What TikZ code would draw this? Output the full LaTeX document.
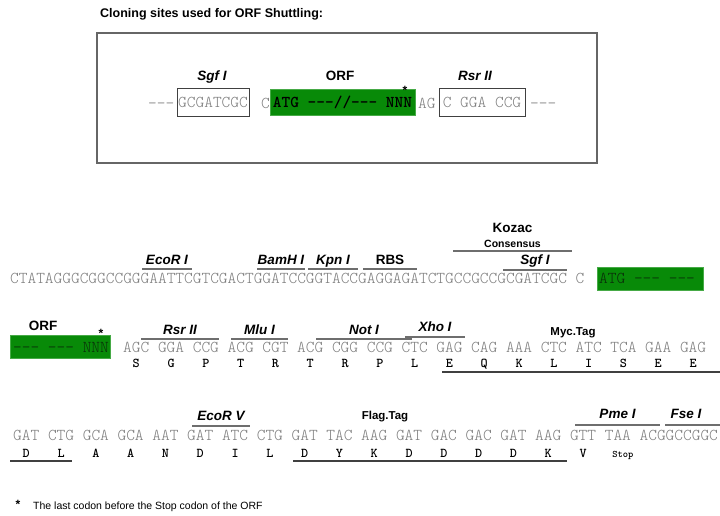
\documentclass[tikz,border=0pt]{standalone}
\usepackage{fontspec}
\setmainfont{Liberation Sans}
\usetikzlibrary{positioning}

\definecolor{orfgreen}{RGB}{8,138,8}
\definecolor{orfedge}{RGB}{70,170,70}
\definecolor{orftext}{RGB}{10,45,10}
\definecolor{seqgray}{RGB}{125,125,125}
\definecolor{linegray}{RGB}{110,110,110}

\newcommand{\seqfont}{\fontseries{l}\ttfamily\fontsize{16.57}{18}\selectfont}
\newcommand{\aafont}{\fontseries{b}\ttfamily\fontsize{13.5}{15}\selectfont}
\newcommand{\dsh}{-\kern0pt-\kern0pt-}
\def\chw{8.7}

\tikzset{
  seq/.style={anchor=base west,inner sep=0pt,text=seqgray,font=\seqfont},
  orfseq/.style={seq,text=orftext},
  aa/.style={anchor=base,inner sep=0pt,font=\aafont},
  orfbox/.style={fill=orfgreen,draw=orfedge,line width=0.8pt,inner sep=0pt},
  sitebox/.style={draw=black!75,line width=1pt,inner sep=0pt,text=seqgray,font=\seqfont},
  enz/.style={anchor=base,inner sep=0pt,font=\fontsize{13.5}{15}\selectfont\bfseries\itshape},
  lab/.style={anchor=base,inner sep=0pt,font=\fontsize{13.5}{15}\selectfont\bfseries},
  tag/.style={anchor=base,inner sep=0pt,font=\fontsize{11.5}{13}\selectfont\bfseries},
  site/.style={draw=linegray,line width=1.3pt},
  tagline/.style={draw=black!75,line width=1.8pt},
  star/.style={anchor=base,inner sep=0pt,font=\fontsize{12}{14}\selectfont\bfseries}
}

\begin{document}
\begin{tikzpicture}[x=1pt,y=-1pt]
  \useasboundingbox (0,0) rectangle (720,515);

  % shuttling sites
  \node[anchor=base west,inner sep=0pt,font=\fontsize{12.5}{14}\selectfont\bfseries] (title) at (100,17) {Cloning sites used for ORF Shuttling:};
  \draw[draw=black!60,line width=1.5pt] (97,33) rectangle (597,163);
  \node[seq] (lead) at (148,108) {\dsh};
  \node[sitebox,minimum width=72,minimum height=28] (sgfbox) at (213,102) {GCGATCGC};
  \node[seq] (cbase) at (261,108) {C};
  \node[orfbox,minimum width=145,minimum height=26,text=black,font=\fontseries{b}\ttfamily\fontsize{16.57}{18}\selectfont] (orftop) at (342.5,102) {ATG \dsh//\dsh{} NNN};
  \node[star] (startop) at (405,94) {*};
  \node[seq] (agbase) at (418,108) {AG};
  \node[sitebox,minimum width=86,minimum height=28] (rsrbox) at (482,102) {C GGA CCG};
  \node[seq] (trail) at (530,108) {\dsh};
  \node[enz] (sgflab) at (212,80) {Sgf I};
  \node[lab] (orflab) at (340,80) {ORF};
  \node[enz] (rsrlab) at (475,80) {Rsr II};

  % 5' sequence
  \node[seq] (seqA) at (10,283) {CTATAGGGCGGCCGGGAATTCGTCGACTGGATCCGGTACCGAGGAGATCTGCCGCCGCGATCGC C};
  \node[orfbox,anchor=north west,minimum width=106,minimum height=23] (orfA) at (597,267) {};
  \node[orfseq] (orfAtxt) at (599,283) {ATG \dsh\ \dsh};
  \draw[site] (142,269) -- (192,269) node[enz,midway,yshift=5pt] (ecori) {EcoR I};
  \draw[site] (257,269) -- (305,269) node[enz,midway,yshift=5pt] (bamhi) {BamH I};
  \draw[site] (308,269) -- (358,269) node[enz,midway,yshift=5pt] (kpni) {Kpn I};
  \draw[site] (363,269) -- (417,269) node[lab,midway,yshift=5pt] (rbs) {RBS};
  \draw[site] (503,270) -- (567,270) node[enz,midway,yshift=6pt] (sgfi) {Sgf I};
  \draw[site] (453,251) -- (572,251) node[anchor=base,inner sep=0pt,font=\fontsize{10.5}{12}\selectfont\bfseries,midway,yshift=4pt] (cons) {Consensus};
  \node[lab,above=6pt of cons] (kozac) {Kozac};

  % 3' sequence
  \node[lab] (orflabB) at (43,330) {ORF};
  \node[orfbox,anchor=north west,minimum width=100,minimum height=23] (orfB) at (10,335) {};
  \node[orfseq] (orfBtxt) at (13,352) {\dsh\ \dsh\ NNN};
  \node[star] (starB) at (101,337) {*};
  \foreach \c/\a [count=\i from 0] in {AGC/S,GGA/G,CCG/P,ACG/T,CGT/R,ACG/T,CGG/R,CCG/P,CTC/L,GAG/E,CAG/Q,AAA/K,CTC/L,ATC/I,TCA/S,GAA/E,GAG/E}{
    \node[seq] (cB\i) at ({123+4*\i*\chw},352) {\c};
    \node[aa] (aB\i) at ([yshift=-15pt]cB\i.base) {\a};
  }
  \draw[site] (141,339) -- (219,339) node[enz,midway,yshift=5pt] (rsrii) {Rsr II};
  \draw[site] (231,339) -- (288,339) node[enz,midway,yshift=5pt] (mlui) {Mlu I};
  \draw[site] (316,339) -- (412,339) node[enz,midway,yshift=5pt] (noti) {Not I};
  \draw[site] (405,337) -- (465,337) node[enz,midway,yshift=6pt] (xhoi) {Xho I};
  \node[tag] (myc) at (573,335) {Myc.Tag};
  \draw[tagline] (442,372) -- (720,372);

  % tags and stop
  \foreach \c/\a [count=\i from 0] in {GAT/D,CTG/L,GCA/A,GCA/A,AAT/N,GAT/D,ATC/I,CTG/L,GAT/D,TAC/Y,AAG/K,GAT/D,GAC/D,GAC/D,GAT/D,AAG/K,GTT/V}{
    \node[seq] (cC\i) at ({13+4*\i*\chw},440) {\c};
    \node[aa] (aC\i) at ([yshift=-17pt]cC\i.base) {\a};
  }
  \node[seq] (cC17) at ({13+68*\chw},440) {TAA};
  \node[aa,font=\fontseries{b}\ttfamily\fontsize{10}{12}\selectfont] (stopC) at ([xshift=5pt,yshift=-17pt]cC17.base) {Stop};
  \node[seq] (tailC) at ({13+72*\chw},440) {ACGGCCGGC};
  \draw[site] (192,426) -- (250,426) node[enz,midway,yshift=6pt] (ecorv) {EcoR V};
  \draw[site] (575,425) -- (660,425) node[enz,midway,yshift=7pt] (pmei) {Pme I};
  \draw[site] (665,425) -- (720,425);
  \node[enz] (fsei) at (686,418) {Fse I};
  \node[tag] (flag) at (385,419) {Flag.Tag};
  \draw[tagline] (10,461) -- (72,461);
  \draw[tagline] (293,461) -- (567,461);

  % footnote
  \node[star] (starnote) at (18,508) {*};
  \node[anchor=base west,inner sep=0pt,font=\fontsize{10.5}{12}\selectfont] (note) at (33,509) {The last codon before the Stop codon of the ORF};
\end{tikzpicture}
\end{document}
